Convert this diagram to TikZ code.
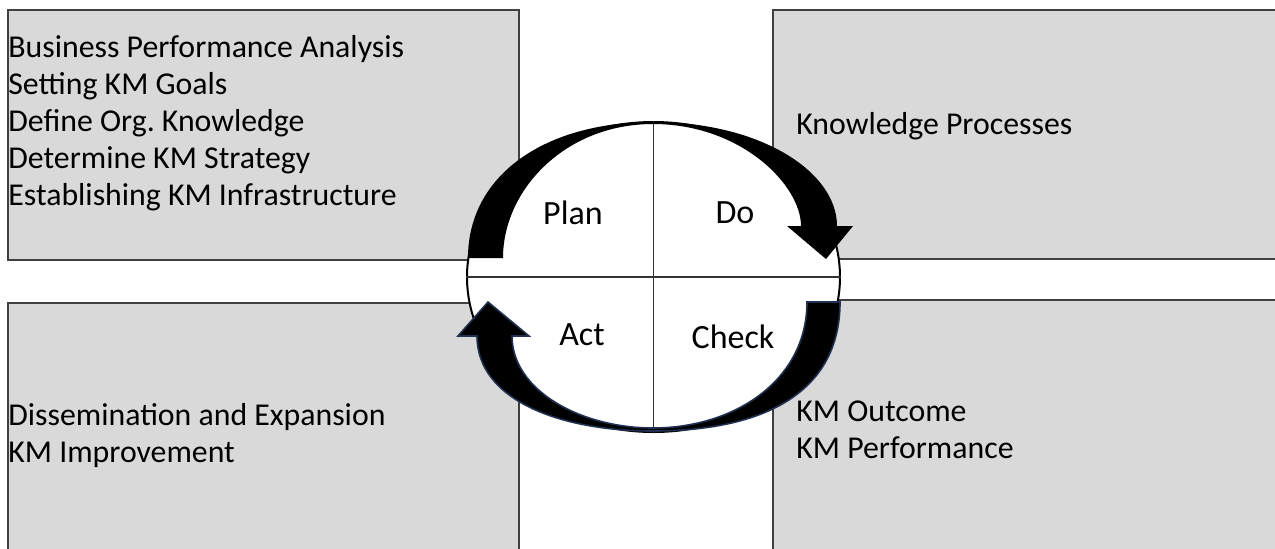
\documentclass[tikz,border=0pt]{standalone}
\usepackage{fontspec}
\setmainfont{Carlito}
\frenchspacing
\usetikzlibrary{shapes.geometric}
\definecolor{boxgray}{RGB}{217,217,217}
\definecolor{boxline}{RGB}{64,64,64}
\definecolor{navyline}{RGB}{31,48,80}
\tikzset{
  box/.style={fill=boxgray, draw=boxline, line width=0.75pt},
  txt/.style={font=\fontsize{15.9}{18.5}\selectfont, inner sep=0pt, anchor=base west},
  lbl/.style={font=\fontsize{17}{20}\selectfont, inner sep=0pt, anchor=center},
  quad/.style={draw=black!80, line width=0.7pt},
}
\begin{document}
\begin{tikzpicture}[x=0.5pt, y=-0.5pt]
\useasboundingbox (0,0) rectangle (1275,548);
\clip (0,0) rectangle (1275,548);
% boxes
\draw[box] (8,10) rectangle (519,260);
\draw[box] (8,303) rectangle (519,560);
\draw[box] (773,10) rectangle (1290,259);
\draw[box] (773,300) rectangle (1290,560);
% cycle ellipse
\node[ellipse, draw=black, line width=1pt, fill=white, minimum width=186.5pt, minimum height=155pt, inner sep=0pt] (pdca) at (653.5,277) {};
\draw[quad] (pdca.north) -- (pdca.south);
\draw[quad] (pdca.west) -- (pdca.east);
% top arrow (Plan -> Do)
\fill[black] (468,258) .. controls (468,175) and (545,122) .. (653,122)
  .. controls (761,122) and (837,172) .. (837,226) -- (853,226) -- (826,259) -- (787,226) -- (801,226)
  .. controls (801,185) and (741,124) .. (653,124)
  .. controls (565,124) and (503,190) .. (503,258) -- cycle;
% bottom arrow (Check -> Act)
\filldraw[fill=black, draw=navyline, line width=0.8pt] (840,302) .. controls (840,395) and (760,431) .. (653,431)
  .. controls (560,431) and (477,400) .. (477,336) -- (458,336) -- (488,302) -- (529,336) -- (512,336)
  .. controls (512,390) and (580,428) .. (653,428)
  .. controls (735,428) and (807,380) .. (807,302) -- cycle;
% quadrant labels
\node[lbl] (plan) at (573,213) {Plan};
\node[lbl] (do) at (735,213) {Do};
\node[lbl] (act) at (582,335) {Act};
\node[lbl] (check) at (733,337) {Check};
% box texts
\node[txt] (tl1) at (8,57) {Business Performance Analysis};
\node[txt] (tl2) at (8,94) {Setting KM Goals};
\node[txt] (tl3) at (8,131) {Define Org. Knowledge};
\node[txt] (tl4) at (8,168) {Determine KM Strategy};
\node[txt] (tl5) at (8,205) {Establishing KM Infrastructure};
\node[txt] (tr1) at (796,134) {Knowledge Processes};
\node[txt] (bl1) at (8,425) {Dissemination and Expansion};
\node[txt] (bl2) at (8,462) {KM Improvement};
\node[txt] (br1) at (796,421) {KM Outcome};
\node[txt] (br2) at (796,458) {KM Performance};
\end{tikzpicture}
\end{document}
